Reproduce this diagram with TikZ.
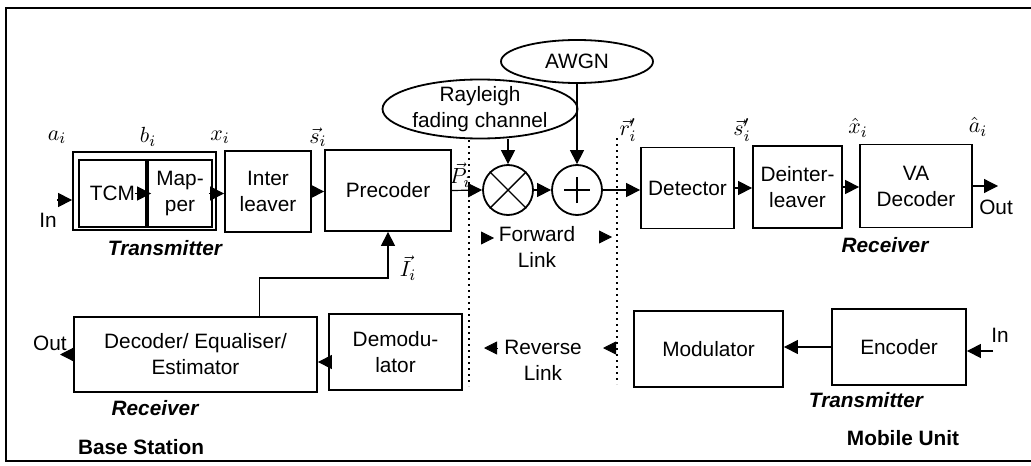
\documentclass[tikz,border=0pt]{standalone}
\usepackage{fontspec}
\setmainfont{Liberation Sans}
\usetikzlibrary{arrows.meta,shapes.geometric}

\begin{document}
\begin{tikzpicture}[x=0.5pt,y=-0.5pt,
  font=\fontsize{10.4}{13}\selectfont,
  blk/.style={draw,line width=0.9pt,align=center,inner sep=0pt},
  arr/.style={line width=0.6pt,-{Triangle[length=7pt,width=7pt]}},
  sig/.style={font=\fontsize{11}{12}\selectfont,inner sep=0.5pt},
  tag/.style={font=\fontsize{10.4}{12}\selectfont\bfseries\itshape},
  op/.style={draw,circle,line width=0.9pt,minimum size=25pt,inner sep=0pt},
  cloud/.style={draw,ellipse,line width=0.9pt,align=center,inner sep=0pt}]
\useasboundingbox (0,0) rectangle (1031,465);
\draw[line width=0.9pt] (1040,8) -- (6,8) -- (6,461) -- (1040,461);

\node[blk,minimum width=71.5pt,minimum height=39pt] (grp) at (144.5,191) {};
\node[blk,minimum width=33.5pt,minimum height=33.5pt] (tcm) at (112.5,193.5) {TCM};
\node[blk,minimum width=32pt,minimum height=33.5pt] (map) at (180,193.5) {Map-\\per};
\node[blk,minimum width=43pt,minimum height=40.5pt] (intl) at (268,191.5) {Inter\\leaver};
\node[blk,minimum width=63pt,minimum height=40.5pt] (prec) at (388,190.5) {Precoder};
\node[op] (mult) at (508,190) {};
\node[op] (add) at (577,190) {};
\node[cloud,minimum width=97.5pt,minimum height=29.5pt,inner ysep=-2pt] (ray) at (480,109) {Rayleigh\\fading channel};
\node[cloud,minimum width=76pt,minimum height=21.5pt] (awgn) at (577,61.5) {AWGN};
\node[blk,minimum width=46.5pt,minimum height=40.5pt] (det) at (687.5,188) {Detector};
\node[blk,minimum width=44.5pt,minimum height=41pt] (dint) at (797.5,187) {Deinter-\\leaver};
\node[blk,minimum width=56pt,minimum height=41.5pt] (va) at (916,186) {VA\\Decoder};
\node[blk,minimum width=121.5pt,minimum height=37.5pt] (dec) at (195.5,354.5) {Decoder/ Equaliser/\\Estimator};
\node[blk,minimum width=66.5pt,minimum height=38pt] (demod) at (395.5,352) {Demodu-\\lator};
\node[blk,minimum width=74.5pt,minimum height=38pt] (mod) at (708.5,349) {Modulator};
\node[blk,minimum width=67pt,minimum height=38pt] (enc) at (899,347) {Encoder};

\draw[line width=0.7pt] (mult.north west) -- (mult.south east) (mult.north east) -- (mult.south west);
\draw[line width=0.7pt] ([xshift=-6.5pt]add.center) -- ([xshift=6.5pt]add.center)
  ([yshift=-6.5pt]add.center) -- ([yshift=6.5pt]add.center);

\coordinate (inL) at (57,200);
\coordinate (outL) at (60,358);
\coordinate (outR) at (998,188);
\coordinate (inR) at (993,351);
\draw[arr] (inL) -- (inL -| grp.west);
\draw[arr] ([xshift=-6pt]tcm.east) -- ([xshift=2pt]map.west);
\draw[arr] ([xshift=-2pt]map.east) -- (map.east -| intl.west);
\draw[arr] (intl.east) -- (intl.east -| prec.west);
\draw[arr] (prec.east) -- (mult.west);
\draw[arr] (mult) -- (add);
\draw[arr] (add.east) -- (add.east -| det.west);
\draw[arr] (det.east) -- (det.east -| dint.west);
\draw[arr] (dint.east) -- (dint.east -| va.west);
\draw[arr] (va.east) -- (va.east -| outR);
\draw[arr] (mult |- ray.south) -- (mult.north);
\draw[arr] (awgn.south) -- (add.north);
\draw[arr] ([xshift=32pt]dec.north) |- ([yshift=-23pt]prec.south) -- (prec.south);
\draw[arr] ([yshift=-5pt]demod.west) -- ([yshift=-5pt]demod.west -| dec.east);
\draw[arr] (dec.west) -- (dec.west -| outL);
\draw[arr] (enc.west) -- (enc.west -| mod.east);
\draw[arr] (inR) -- (inR -| enc.east);

\draw[dotted,line width=1pt] (469,140) -- (469,386);
\draw[dotted,line width=1pt] (617,138) -- (617,384);
\draw[-{Triangle[length=6.5pt,width=6.5pt]}] (481,238) -- (494,238);
\draw[-{Triangle[length=6.5pt,width=6.5pt]}] (599,237) -- (612,237);
\draw[-{Triangle[length=6.5pt,width=6.5pt]}] (497,348) -- (484,348);
\draw[-{Triangle[length=6.5pt,width=6.5pt]}] (616,348) -- (603,348);
\node[align=center] (fwd) at (537,247) {Forward\\Link};
\node[align=center] (rev) at (543,360) {Reverse\\Link};

\node[sig] (ai) at (57,137) {$a_i$};
\node[sig] (bi) at (148,137) {$b_i$};
\node[sig] (xi) at (220,137) {$x_i$};
\node[sig] (si) at (318,137) {$\vec{s}_i$};
\node[sig] (pi) at (460,175) {$\vec{P}_i$};
\node[sig] (ri) at (628,130) {$\vec{r}_i'$};
\node[sig] (sj) at (742,130) {$\vec{s}_i'$};
\node[sig] (xh) at (858,128) {$\hat{x}_i$};
\node[sig] (ah) at (978,127) {$\hat{a}_i$};
\node[sig] (ii) at (408,268) {$\vec{I}_i$};

\node (inLt) at (48,220) {In};
\node (outLt) at (50,343) {Out};
\node (outRt) at (996,207) {Out};
\node (inRt) at (1000,335) {In};

\node[tag] (tx1) at (165,248) {Transmitter};
\node[tag] (rx1) at (155,408) {Receiver};
\node[tag] (rx2) at (885,245) {Receiver};
\node[tag] (tx2) at (866,400) {Transmitter};
\node[font=\fontsize{10.4}{12}\selectfont\bfseries] (bs) at (141,447) {Base Station};
\node[font=\fontsize{10.4}{12}\selectfont\bfseries] (mu) at (903,438) {Mobile Unit};
\end{tikzpicture}
\end{document}
